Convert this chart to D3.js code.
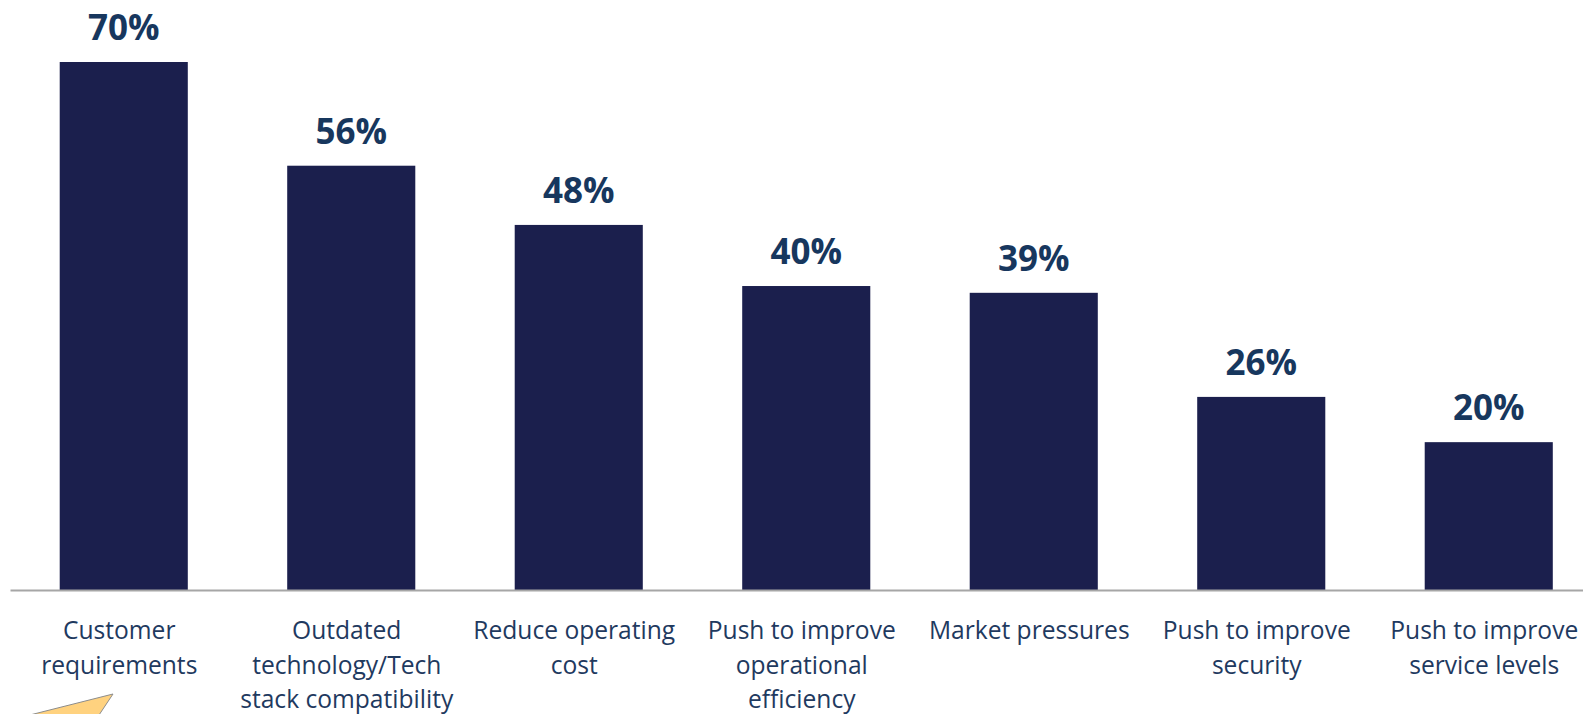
<!DOCTYPE html>
<html>
<head>
<meta charset="utf-8">
<script src="https://cdn.jsdelivr.net/npm/d3@7"></script>
<style>
  html, body { margin: 0; padding: 0; background: #fff; overflow: hidden; }
  #chart { width: 1583px; height: 714px; }
</style>
</head>
<body>
<div id="chart"></div>
<script>
// data (bar heights suggest unrounded values; labels show rounded %)
const categories = [
  "Customer requirements",
  "Outdated technology/Tech stack compatibility",
  "Reduce operating cost",
  "Push to improve operational efficiency",
  "Market pressures",
  "Push to improve security",
  "Push to improve service levels"
];
// how each tick label wraps
const tickLines = [
  ["Customer", "requirements"],
  ["Outdated", "technology/Tech", "stack compatibility"],
  ["Reduce operating", "cost"],
  ["Push to improve", "operational", "efficiency"],
  ["Market pressures"],
  ["Push to improve", "security"],
  ["Push to improve", "service levels"]
];
const values = [70, 56.25, 48.4, 40.3, 39.4, 25.6, 19.6];

(() => {
  const W = 1583, H = 714;
  const barColor = "#1b1f4d";
  const valueColor = "#17375e";
  const labelColor = "#1f3a5f";

  const svg = d3.select("#chart").append("svg")
    .attr("width", W)
    .attr("height", H);

  const x = d3.scaleBand()
    .domain(categories)
    .range([10, 1602.5])
    .paddingInner(0.437)
    .paddingOuter(0.2185);

  const y = d3.scaleLinear()
    .domain([0, 70])
    .range([590, 62]);

  // bars
  svg.selectAll("rect.bar")
    .data(values)
    .enter()
    .append("rect")
    .attr("class", "bar")
    .attr("x", (d, i) => x(categories[i]))
    .attr("y", d => y(d))
    .attr("width", x.bandwidth())
    .attr("height", d => y(0) - y(d))
    .attr("fill", barColor);

  // value labels
  svg.selectAll("text.val")
    .data(values)
    .enter()
    .append("text")
    .attr("class", "val")
    .attr("x", (d, i) => x(categories[i]) + x.bandwidth() / 2)
    .attr("y", d => y(d) - 22)
    .attr("text-anchor", "middle")
    .attr("fill", valueColor)
    .style("font", "bold 35px 'Open Sans', sans-serif")
    .text(d => Math.round(d) + "%");

  // baseline axis
  const xAxis = svg.append("g")
    .attr("transform", `translate(0, ${y(0)})`)
    .call(d3.axisBottom(x).tickSize(0).tickFormat(""));
  xAxis.select(".domain")
    .attr("stroke", "#a6a6a6")
    .attr("stroke-width", 2);

  // wrapped category labels (sit a touch left of bar centre, like the source)
  const lbl = svg.selectAll("text.cat")
    .data(categories)
    .enter()
    .append("text")
    .attr("class", "cat")
    .attr("text-anchor", "middle")
    .attr("fill", labelColor)
    .style("font", "24.6px 'Open Sans', sans-serif");

  lbl.each(function (c, i) {
    const t = d3.select(this);
    const cx = x(c) + x.bandwidth() / 2 - 4.5;
    tickLines[i].forEach((line, k) => {
      t.append("tspan")
        .attr("x", cx)
        .attr("y", 639 + k * 34.5)
        .text(line);
    });
  });

  // callout arrow tip in the lower-left corner
  svg.append("polygon")
    .attr("points", "113,694 18,718 97,718")
    .attr("fill", "#ffd27f")
    .attr("stroke", "#8c8c8c")
    .attr("stroke-width", 1);
})();
</script>
</body>
</html>
